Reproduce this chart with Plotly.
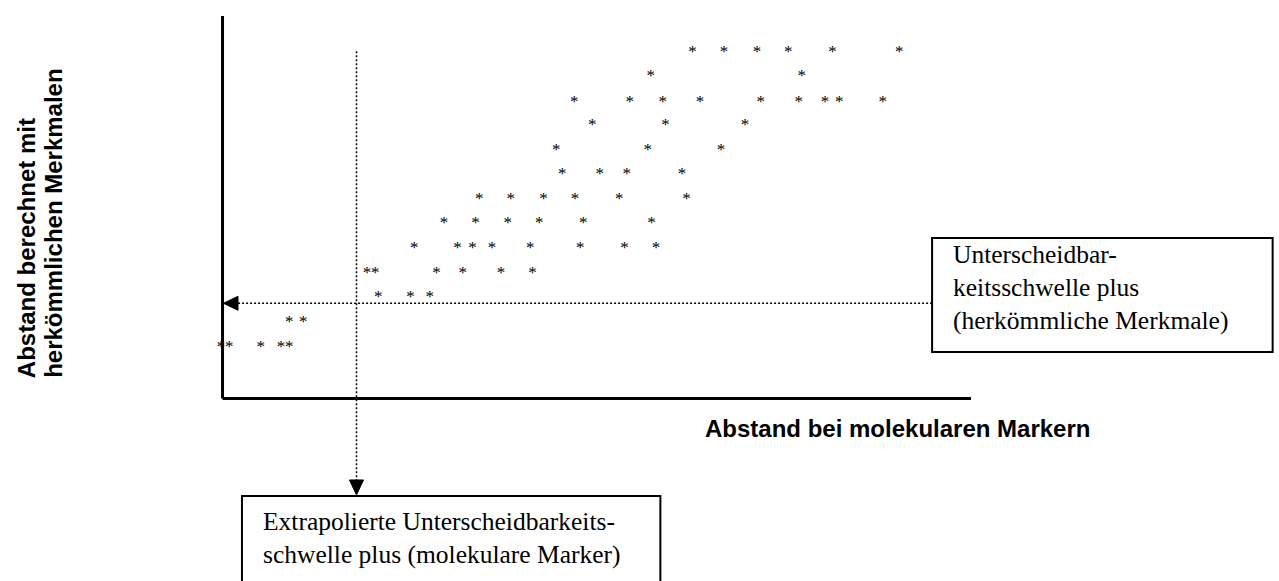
import plotly.graph_objects as go

# ---- data (in axis units: 0..100 on both axes) ----
row_y = [90.3, 84.1, 77.4, 71.2, 64.8, 58.5, 52.0, 45.6, 39.2, 32.5, 26.3, 19.7, 13.4]
row_x = [
    [62.8, 67.0, 71.4, 75.6, 81.5, 90.4],
    [57.2, 77.4],
    [47.0, 54.4, 58.8, 63.8, 71.9, 77.0, 80.5, 82.4, 88.2],
    [49.4, 59.2, 69.8],
    [44.6, 56.8, 66.6],
    [45.4, 50.4, 54.0, 61.4],
    [34.3, 38.5, 42.9, 47.1, 53.0, 62.0],
    [29.6, 33.8, 38.1, 42.3, 48.2, 57.3],
    [25.6, 31.4, 33.4, 36.0, 41.1, 47.8, 53.7, 57.9],
    [19.3, 20.4, 28.6, 32.1, 37.2, 41.4],
    [20.8, 25.1, 27.7],
    [8.9, 10.8],
    [-0.2, 0.9, 5.1, 7.8, 8.9],
]
threshold_molecular = 17.9      # x of the extrapolated threshold
threshold_conventional = 24.9   # y of the conventional-trait threshold

x_title = "Abstand bei molekularen Markern"
y_title_lines = ["Abstand berechnet mit", "herkömmlichen Merkmalen"]
box1_text = "Unterscheidbar-<br>keitsschwelle plus<br>(herkömmliche Merkmale)"
box2_text = "Extrapolierte Unterscheidbarkeits-<br>schwelle plus (molekulare Marker)"

XR = [-29.73, 141.15]
YR = [-48.76, 103.14]
GLYPH_SHIFT = 1.05  # centres the '*' glyph on its value

xs, ys = [], []
for yv, xl in zip(row_y, row_x):
    for xv in xl:
        xs.append(xv)
        ys.append(yv)

fig = go.Figure()
fig.add_trace(go.Scatter(
    x=xs, y=ys, mode="text", text=["*"] * len(xs),
    textposition="middle center", yaxis="y2",
    textfont=dict(family="Liberation Serif", size=17, color="black"),
    hoverinfo="skip", cliponaxis=False,
))

BLACK = "black"
DOT = "2px,2px"
shapes = [
    # axes
    dict(type="line", x0=0, y0=0, x1=0, y1=100, line=dict(color=BLACK, width=3)),
    dict(type="line", x0=0, y0=0, x1=100, y1=0, line=dict(color=BLACK, width=3)),
    # vertical dotted threshold
    dict(type="line", x0=threshold_molecular, x1=threshold_molecular, y0=90.8, y1=-21.3,
         line=dict(color=BLACK, width=1.5, dash=DOT)),
    dict(type="path",
         path=f"M {threshold_molecular-0.94},-21.3 L {threshold_molecular+0.94},-21.3 L {threshold_molecular},-25.2 Z",
         fillcolor=BLACK, line=dict(color=BLACK, width=1)),
    # horizontal dotted threshold
    dict(type="line", x0=94.8, x1=2.07, y0=threshold_conventional, y1=threshold_conventional,
         line=dict(color=BLACK, width=1.5, dash=DOT)),
    dict(type="path",
         path=f"M 2.07,{threshold_conventional+1.83} L 2.07,{threshold_conventional-1.83} L 0.13,{threshold_conventional} Z",
         fillcolor=BLACK, line=dict(color=BLACK, width=1)),
    # boxes
    dict(type="rect", x0=94.8, x1=140.3, y0=12.16, y1=41.96, line=dict(color=BLACK, width=2),
         fillcolor="rgba(0,0,0,0)"),
    dict(type="rect", x0=2.6, x1=58.5, y0=-55, y1=-25.5, line=dict(color=BLACK, width=2),
         fillcolor="rgba(0,0,0,0)"),
]

annotations = [
    dict(x=90.2, y=-7.8, text=f"<b>{x_title}</b>", showarrow=False, xanchor="center", yanchor="middle",
         font=dict(family="Liberation Sans", size=24, color=BLACK)),
    dict(x=-26.1, y=4.85, text=f"<b>{y_title_lines[0]}</b>", showarrow=False, textangle=-90,
         xanchor="center", yanchor="bottom", font=dict(family="Liberation Sans", size=24, color=BLACK)),
    dict(x=-22.6, y=4.85, text=f"<b>{y_title_lines[1]}</b>", showarrow=False, textangle=-90,
         xanchor="center", yanchor="bottom", font=dict(family="Liberation Sans", size=24, color=BLACK)),
    dict(x=97.3, y=41.9, text=box1_text, showarrow=False, xanchor="left", yanchor="top", align="left",
         font=dict(family="Liberation Serif", size=25.5, color=BLACK)),
    dict(x=5.1, y=-27.9, text=box2_text, showarrow=False, xanchor="left", yanchor="top", align="left",
         font=dict(family="Liberation Serif", size=25.5, color=BLACK)),
]

fig.update_layout(
    width=1279, height=581,
    margin=dict(l=0, r=0, t=0, b=0),
    paper_bgcolor="white", plot_bgcolor="white",
    showlegend=False,
    xaxis=dict(range=XR, visible=False, fixedrange=True),
    yaxis=dict(range=YR, visible=False, fixedrange=True),
    yaxis2=dict(range=[YR[0] + GLYPH_SHIFT, YR[1] + GLYPH_SHIFT], visible=False,
                overlaying="y", fixedrange=True),
    shapes=shapes, annotations=annotations,
)

fig.write_html("out.html", config={"displayModeBar": False},
               post_script="document.body.style.margin='0';")
